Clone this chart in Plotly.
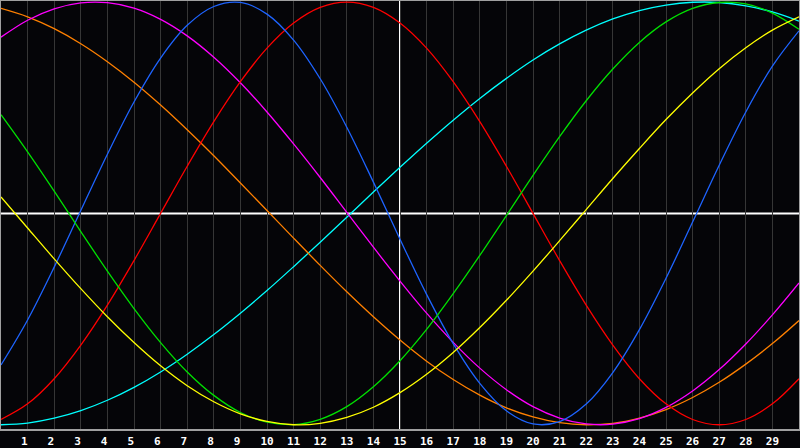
import plotly.graph_objects as go

# -- datos (valores en x = 0..30)
x_vals = list(range(0, 31))

rojo = [-0.975, -0.901, -0.782, -0.623, -0.434, -0.223, 0.0, 0.223, 0.434, 0.623, 0.782,
        0.901, 0.975, 1.0, 0.975, 0.901, 0.782, 0.623, 0.434, 0.223, 0.0, -0.223,
        -0.434, -0.623, -0.782, -0.901, -0.975, -1.0, -0.975, -0.901, -0.782]
azul = [-0.717, -0.504, -0.254, 0.014, 0.280, 0.527, 0.735, 0.890, 0.979, 0.998, 0.943,
        0.820, 0.637, 0.408, 0.148, -0.122, -0.383, -0.616, -0.804, -0.934, -0.996,
        -0.985, -0.902, -0.753, -0.550, -0.307, -0.041, 0.228, 0.480, 0.697, 0.864]
magenta = [0.834, 0.914, 0.968, 0.996, 0.997, 0.971, 0.918, 0.840, 0.739, 0.618, 0.480,
           0.329, 0.170, 0.005, -0.160, -0.320, -0.472, -0.610, -0.732, -0.834, -0.914,
           -0.968, -0.996, -0.997, -0.971, -0.918, -0.840, -0.739, -0.618, -0.480, -0.329]
naranja = [0.970, 0.930, 0.874, 0.803, 0.718, 0.621, 0.513, 0.396, 0.273, 0.144, 0.014,
           -0.117, -0.246, -0.371, -0.489, -0.599, -0.699, -0.786, -0.860, -0.920, -0.963,
           -0.990, -1.000, -0.993, -0.968, -0.928, -0.871, -0.799, -0.713, -0.616, -0.507]
verde = [0.467, 0.291, 0.105, -0.086, -0.273, -0.450, -0.611, -0.750, -0.861, -0.942, -0.988,
         -0.999, -0.974, -0.914, -0.820, -0.697, -0.549, -0.380, -0.199, -0.010, 0.180,
         0.363, 0.533, 0.683, 0.809, 0.906, 0.970, 0.998, 0.991, 0.948, 0.871]
amarillo = [0.078, -0.069, -0.215, -0.356, -0.489, -0.611, -0.721, -0.815, -0.891, -0.948, -0.984,
            -1.000, -0.993, -0.965, -0.917, -0.848, -0.761, -0.658, -0.540, -0.411, -0.273,
            -0.129, 0.018, 0.165, 0.307, 0.444, 0.570, 0.685, 0.784, 0.867, 0.930]
cian = [-1.000, -0.992, -0.969, -0.933, -0.884, -0.823, -0.750, -0.666, -0.573, -0.472, -0.365,
        -0.252, -0.136, -0.018, 0.101, 0.218, 0.332, 0.441, 0.544, 0.639, 0.726,
        0.802, 0.867, 0.920, 0.960, 0.986, 0.999, 0.998, 0.982, 0.953, 0.910]

# -- etiquetas del eje x (un espacio duro para alinear los de un digito)
ticks_x = list(range(1, 30))
etiquetas_x = [str(t) + "\u00a0" if t < 10 else str(t) for t in ticks_x]

series = [
    ("cian", cian, "#00ffff"),
    ("naranja", naranja, "#ff8000"),
    ("magenta", magenta, "#ff00ff"),
    ("rojo", rojo, "#ff0000"),
    ("azul", azul, "#1e64ff"),
    ("verde", verde, "#00e000"),
    ("amarillo", amarillo, "#ffff00"),
]

CRUZ_X = 15
CRUZ_Y = 0

fig = go.Figure()
for nombre, valores, color in series:
    fig.add_trace(go.Scatter(x=x_vals, y=valores, mode='lines', name=nombre,
                             line=dict(color=color, width=1.3, shape='spline'),
                             hoverinfo='skip'))

# cruz blanca
fig.add_shape(type="line", xref="x", yref="paper", x0=CRUZ_X, x1=CRUZ_X, y0=0, y1=1,
              line=dict(color="white", width=2), layer="below")
fig.add_shape(type="line", xref="paper", yref="y", x0=0, x1=1, y0=CRUZ_Y, y1=CRUZ_Y,
              line=dict(color="white", width=2), layer="below")

fig.update_layout(
    width=800, height=448,
    margin=dict(l=1, r=1, t=1, b=19, autoexpand=False),
    paper_bgcolor="#050508",
    plot_bgcolor="#050508",
    showlegend=False,
    hovermode=False,
)
fig.update_xaxes(range=[0, 30], tickvals=ticks_x, ticktext=etiquetas_x, automargin=False,
                 showgrid=True, gridcolor="#363636", gridwidth=1, zeroline=False,
                 showline=True, linecolor="#a0a0a0", linewidth=2, mirror=True,
                 ticks="", ticklabelstandoff=1,
                 tickfont=dict(family="DejaVu Sans Mono", size=11, color="white", weight="bold"))
fig.update_yaxes(range=[-1.02, 1.005], showgrid=False, zeroline=False, automargin=False,
                 showticklabels=False, ticks="",
                 showline=True, linecolor="#a0a0a0", linewidth=2, mirror=True)

# quitar el margen del body para que la figura llene la ventana
fig.write_html("out.html", config={"displayModeBar": False},
               post_script="document.body.style.margin='0';document.body.style.background='#050508';")
